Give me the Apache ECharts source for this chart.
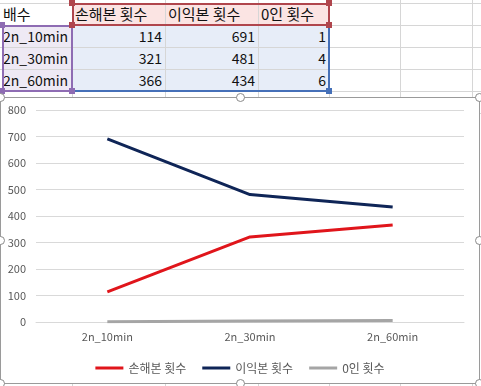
<!DOCTYPE html>
<html><head><meta charset="utf-8">
<script src="https://cdn.jsdelivr.net/npm/echarts@6/dist/echarts.min.js"></script>
<style>
body{margin:0;width:481px;height:386px;overflow:hidden;background:#fff;font-family:"Noto Sans CJK KR","Noto Sans",sans-serif;position:relative}
.ab{position:absolute;box-sizing:border-box}
.cell{position:absolute;box-sizing:border-box;font-size:15px;line-height:22px;padding:0 3px;white-space:nowrap;color:#111;overflow:hidden}
.lat{font-size:14px}
.hd{position:absolute;width:9px;height:9px;border-radius:50%;background:#fff;border:1.5px solid #8a8a8a;box-sizing:border-box}
.sq{position:absolute;width:6px;height:6px}
</style>
</head><body>
<div id="sheet"></div>
<div id="chart" class="ab" style="left:0;top:97px;width:480px;height:287px;border:1px solid #9a9a9a;background:#fff"></div>
<div id="handles"></div>
<script>
var headerName = '배수';
var categories = ['2n_10min', '2n_30min', '2n_60min'];
var seriesNames = ['손해본 횟수', '이익본 횟수', '0인 횟수'];
var lossCounts = [114, 321, 366];
var profitCounts = [691, 481, 434];
var zeroCounts = [1, 4, 6];
var yTicks = [0, 100, 200, 300, 400, 500, 600, 700, 800];

var sheet = document.getElementById('sheet');
function add(html){ sheet.insertAdjacentHTML('beforeend', html); }
var colX = [0, 72, 165, 258, 329, 400, 472, 481];
var rowY = [3, 25, 47, 69, 91, 113];
// fills
add('<div class="ab" style="left:72px;top:3px;width:257px;height:22px;background:#fbe4e3"></div>');
add('<div class="ab" style="left:2px;top:25px;width:70px;height:66px;background:#eee9f4"></div>');
add('<div class="ab" style="left:72px;top:25px;width:257px;height:66px;background:#e7edf8"></div>');
// gridlines
for (var i=1;i<colX.length-1;i++) add('<div class="ab" style="left:'+colX[i]+'px;top:0;width:1px;height:386px;background:#d6d6d6"></div>');
for (var j=0;j<rowY.length;j++) add('<div class="ab" style="left:0;top:'+rowY[j]+'px;width:481px;height:1px;background:#d6d6d6"></div>');
// text
add('<div class="cell" style="left:0;top:3px;width:72px;height:22px">'+headerName+'</div>');
for (var s=0;s<seriesNames.length;s++) add('<div class="cell" style="left:'+colX[s+1]+'px;top:3px;width:'+(colX[s+2]-colX[s+1])+'px;height:22px">'+seriesNames[s]+'</div>');
var vals = [lossCounts, profitCounts, zeroCounts];
for (var r=0;r<categories.length;r++){
  add('<div class="cell lat" style="left:0;top:'+rowY[r+1]+'px;width:72px;height:22px">'+categories[r]+'</div>');
  for (var s=0;s<3;s++) add('<div class="cell lat" style="left:'+colX[s+1]+'px;top:'+rowY[r+1]+'px;width:'+(colX[s+2]-colX[s+1])+'px;height:22px;text-align:right">'+vals[s][r]+'</div>');
}
// range borders
add('<div class="ab" style="left:72px;top:3px;width:258px;height:23px;border:2px solid #b0464d"></div>');
add('<div class="ab" style="left:2px;top:25px;width:71px;height:67px;border:2px solid #8e6cb3"></div>');
add('<div class="ab" style="left:72px;top:25px;width:258px;height:67px;border:2px solid #4570b8;border-left:none;border-top:none"></div>');
var sq = [[72,3,'#b0464d'],[329,3,'#b0464d'],[72,25,'#b0464d'],[329,25,'#b0464d'],[2,25,'#8e6cb3'],[2,91,'#8e6cb3'],[72,91,'#8e6cb3'],[329,91,'#4570b8']];
sq.forEach(function(p){ add('<div class="sq" style="left:'+(p[0]-3)+'px;top:'+(p[1]-3)+'px;background:'+p[2]+'"></div>'); });
var h = document.getElementById('handles');
[[0,97],[240,97],[479,97],[0,240],[479,240],[0,383],[240,383],[479,383]].forEach(function(p){
  h.insertAdjacentHTML('beforeend','<div class="hd" style="left:'+(p[0]-4.5)+'px;top:'+(p[1]-4.5)+'px"></div>');
});

var chart = echarts.init(document.getElementById('chart'), null, {renderer:'canvas'});
var font = '"Noto Sans CJK KR","Noto Sans",sans-serif';
chart.setOption({
  animation:false,
  textStyle:{fontFamily:font},
  grid:{left:35, right:15, top:12, bottom:61, containLabel:false},
  legend:{
    data:seriesNames, left:'center', top:259, icon:'rect', itemWidth:28, itemHeight:3, itemGap:16,
    textStyle:{color:'#595959', fontSize:12, fontFamily:font}
  },
  xAxis:{
    type:'category', data:categories, boundaryGap:true,
    axisLine:{lineStyle:{color:'#d9d9d9'}}, axisTick:{show:false},
    axisLabel:{color:'#595959', fontSize:11, margin:9, fontFamily:font}
  },
  yAxis:{
    type:'value', min:yTicks[0], max:yTicks[yTicks.length-1], interval:yTicks[1]-yTicks[0],
    axisLine:{show:false}, axisTick:{show:false},
    splitLine:{lineStyle:{color:'#d9d9d9'}},
    axisLabel:{color:'#595959', fontSize:11, margin:10, fontFamily:font}
  },
  series:[
    {name:seriesNames[0], type:'line', data:lossCounts, symbol:'none', lineStyle:{color:'#e0151b', width:3}, itemStyle:{color:'#e0151b'}},
    {name:seriesNames[1], type:'line', data:profitCounts, symbol:'none', lineStyle:{color:'#0f2557', width:3}, itemStyle:{color:'#0f2557'}},
    {name:seriesNames[2], type:'line', data:zeroCounts, symbol:'none', lineStyle:{color:'#a5a5a5', width:3}, itemStyle:{color:'#a5a5a5'}}
  ]
});
</script>
</body></html>
